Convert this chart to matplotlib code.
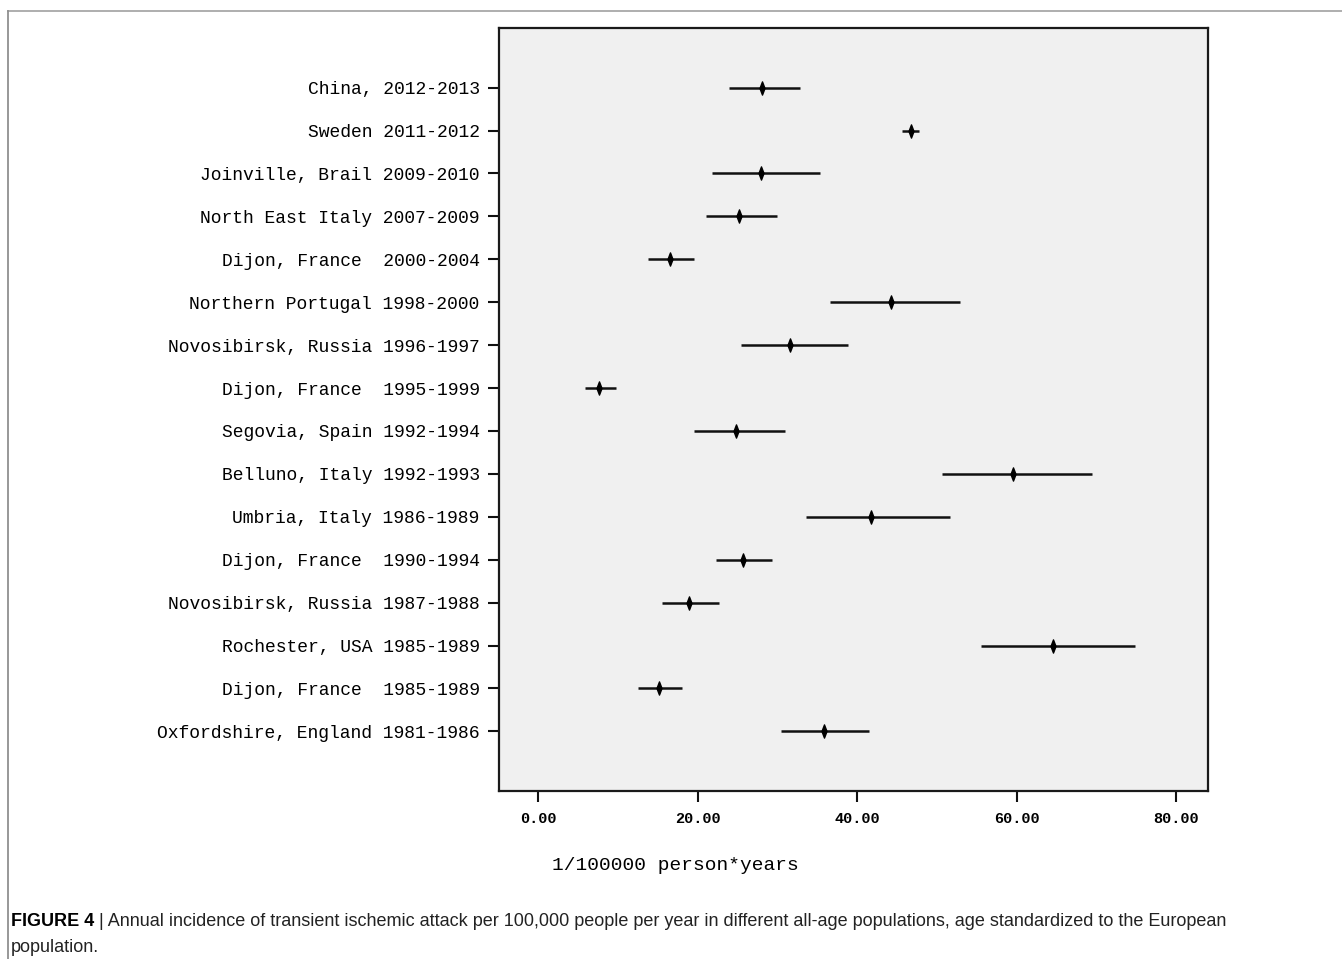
import numpy as np
import matplotlib
matplotlib.use("Agg")
import matplotlib.pyplot as plt
from matplotlib.path import Path
from matplotlib.lines import Line2D

# ---------------- data ----------------
studies = [
    "China, 2012-2013",
    "Sweden 2011-2012",
    "Joinville, Brail 2009-2010",
    "North East Italy 2007-2009",
    "Dijon, France  2000-2004",
    "Northern Portugal 1998-2000",
    "Novosibirsk, Russia 1996-1997",
    "Dijon, France  1995-1999",
    "Segovia, Spain 1992-1994",
    "Belluno, Italy 1992-1993",
    "Umbria, Italy 1986-1989",
    "Dijon, France  1990-1994",
    "Novosibirsk, Russia 1987-1988",
    "Rochester, USA 1985-1989",
    "Dijon, France  1985-1989",
    "Oxfordshire, England 1981-1986",
]
incidence = [28.1, 46.8, 28.0, 25.2, 16.6, 44.3, 31.6, 7.7, 24.8, 59.6,
             41.7, 25.7, 18.9, 64.6, 15.1, 35.8]
ci_low = [24.0, 45.6, 21.8, 21.1, 13.8, 36.6, 25.4, 5.9, 19.5, 50.7,
          33.6, 22.3, 15.6, 55.5, 12.5, 30.5]
ci_high = [32.8, 47.8, 35.4, 29.9, 19.5, 52.9, 38.9, 9.8, 31.0, 69.5,
           51.6, 29.3, 22.7, 74.8, 18.0, 41.5]
x_ticks = [0, 20, 40, 60, 80]
x_ticklabels = ["0.00", "20.00", "40.00", "60.00", "80.00"]
x_label = "1/100000 person*years"
caption_bold = "FIGURE 4"
caption_rest = (" | Annual incidence of transient ischemic attack per 100,000 people per year in "
                "different all-age populations, age standardized to the European")
caption_line2 = "population."

# ---------------- figure ----------------
W, H = 1342, 959
fig = plt.figure(figsize=(W / 100, H / 100), dpi=100)
fig.patch.set_facecolor("white")

def fx(px):
    return px / W

def fy(py):
    return 1 - py / H

# outer thin gray frame (top + left)
fig.add_artist(Line2D([fx(8), 1.0], [fy(11), fy(11)], transform=fig.transFigure,
                      color="#a8a8a8", lw=1.3))
fig.add_artist(Line2D([fx(8), fx(8)], [fy(11), 0.0], transform=fig.transFigure,
                      color="#909090", lw=1.3))

ax_l, ax_r, ax_t, ax_b = 499, 1208, 28, 791
ax = fig.add_axes([fx(ax_l), fy(ax_b), fx(ax_r - ax_l), (ax_b - ax_t) / H])
ax.set_facecolor("#f0f0f0")

n = len(studies)
ypos = np.arange(n)
inc = np.array(incidence)
lo = np.array(ci_low)
hi = np.array(ci_high)

ax.hlines(ypos, lo, hi, color="#111111", lw=1.8, zorder=2)

diamond = Path([(0, 1), (0.38, 0), (0, -1), (-0.38, 0), (0, 1)],
               [Path.MOVETO, Path.LINETO, Path.LINETO, Path.LINETO, Path.CLOSEPOLY])
ax.plot(inc, ypos, linestyle="none", marker=diamond, markersize=9.5,
        color="black", zorder=3)

ax.set_xlim(-4.9, 84.0)
ax.set_ylim(n - 1 + 1.39, -1.39)

mono = "Liberation Mono"
ax.set_yticks(ypos)
ax.set_yticklabels(studies, fontsize=13, family=mono)
ax.set_xticks(x_ticks)
ax.set_xticklabels(x_ticklabels, fontsize=11, family=mono, fontweight="bold")

ax.tick_params(axis="y", length=8, width=1.5, color="#111111", pad=6)
ax.tick_params(axis="x", length=8, width=1.5, color="#111111", pad=7)
for s in ax.spines.values():
    s.set_linewidth(1.6)
    s.set_color("#1a1a1a")

ax.set_xlabel(x_label, fontsize=14, family=mono)
ax.xaxis.set_label_coords((675 - ax_l) / (ax_r - ax_l), -(865 - ax_b) / (ax_b - ax_t))
ax.xaxis.label.set_verticalalignment("center")

# caption
fig.canvas.draw()
renderer = fig.canvas.get_renderer()
cap_fs = 13.0
t1 = fig.text(fx(11), fy(921), caption_bold, fontsize=cap_fs, fontweight="bold",
              family="Liberation Sans", va="center", ha="left")
fig.canvas.draw()
bb = t1.get_window_extent(renderer)
t2 = fig.text(bb.x1 / W, fy(921), caption_rest, fontsize=cap_fs,
              family="Liberation Sans", va="center", ha="left", color="#222222")
fig.text(fx(11), fy(947), caption_line2, fontsize=cap_fs,
         family="Liberation Sans", va="center", ha="left", color="#222222")

fig.savefig("out.png", dpi=100, facecolor="white")
